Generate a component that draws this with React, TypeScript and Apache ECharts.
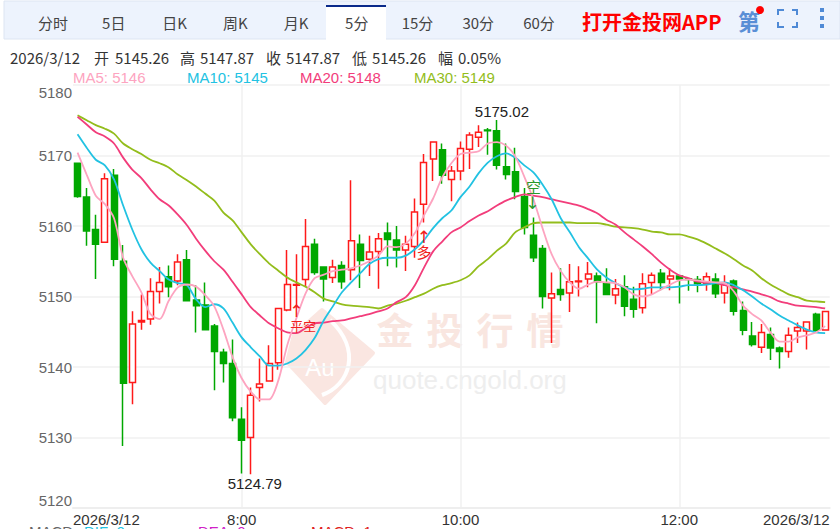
import React, { useEffect, useRef } from "react";
import * as echarts from "echarts";

const tabLabels = ["分时", "5日", "日K", "周K", "月K", "5分", "15分", "30分", "60分"];
const headerTexts = [
  { text: "2026/3/12", x: 10 },
  { text: "开", x: 94 },
  { text: "5145.26", x: 115 },
  { text: "高", x: 180 },
  { text: "5147.87", x: 200 },
  { text: "收", x: 266 },
  { text: "5147.87", x: 286 },
  { text: "低", x: 352 },
  { text: "5145.26", x: 372 },
  { text: "幅", x: 438 },
  { text: "0.05%", x: 458 },
];
const maLegend = [
  { text: "MA5: 5146", x: 73, color: "#fda4c0" },
  { text: "MA10: 5145", x: 187, color: "#22c2e2" },
  { text: "MA20: 5148", x: 300, color: "#f23d7b" },
  { text: "MA30: 5149", x: 414, color: "#93bd1c" },
];
const macdLegend = [
  { text: "MACD", x: 29, color: "#666666" },
  { text: "DIF: 0", x: 84, color: "#22c2e2" },
  { text: "DEA: 0", x: 198, color: "#d020c8" },
  { text: "MACD: 1", x: 311, color: "#e02020" },
];
const firstLastLabels = ["2026/3/12", "2026/3/12"];
const timeLabels: Record<number, string> = { 18: "8:00", 42: "10:00", 66: "12:00" };

// open, close, low, high
const candles = [
  [5168.9, 5164.2, 5164.0, 5168.9],
  [5164.1, 5159.3, 5157.2, 5165.4],
  [5159.5, 5157.4, 5152.5, 5161.6],
  [5157.7, 5166.7, 5157.7, 5167.5],
  [5167.2, 5155.3, 5154.3, 5168.1],
  [5155.0, 5137.7, 5128.8, 5157.3],
  [5137.8, 5146.1, 5134.7, 5147.9],
  [5146.4, 5146.6, 5145.3, 5150.3],
  [5146.8, 5150.7, 5146.0, 5152.6],
  [5150.7, 5152.0, 5149.0, 5154.2],
  [5152.8, 5151.4, 5149.9, 5154.4],
  [5152.2, 5154.9, 5151.6, 5156.0],
  [5155.2, 5149.4, 5149.4, 5156.6],
  [5149.5, 5148.7, 5144.9, 5151.6],
  [5148.8, 5145.3, 5145.3, 5152.0],
  [5145.8, 5142.2, 5136.7, 5146.1],
  [5142.1, 5140.5, 5137.8, 5142.6],
  [5140.5, 5132.8, 5132.3, 5143.9],
  [5132.6, 5129.6, 5124.9, 5134.3],
  [5130.0, 5136.0, 5124.79, 5137.1],
  [5137.1, 5137.6, 5135.1, 5141.2],
  [5138.0, 5140.5, 5138.0, 5143.1],
  [5140.6, 5148.3, 5139.6, 5148.4],
  [5148.1, 5151.7, 5147.9, 5156.6],
  [5151.6, 5151.7, 5148.7, 5156.0],
  [5152.4, 5157.1, 5151.5, 5161.0],
  [5157.4, 5153.4, 5153.1, 5158.2],
  [5154.2, 5152.5, 5149.3, 5154.3],
  [5152.7, 5154.2, 5151.9, 5155.2],
  [5154.4, 5152.1, 5151.1, 5155.0],
  [5153.8, 5157.9, 5152.3, 5166.5],
  [5157.4, 5155.1, 5151.2, 5158.8],
  [5155.3, 5156.3, 5152.9, 5158.6],
  [5156.4, 5158.2, 5151.1, 5159.0],
  [5159.0, 5158.1, 5154.3, 5160.5],
  [5158.0, 5156.6, 5154.1, 5160.0],
  [5156.6, 5157.4, 5153.6, 5158.6],
  [5157.1, 5162.0, 5155.5, 5163.9],
  [5163.1, 5169.0, 5160.5, 5170.2],
  [5169.5, 5171.9, 5166.4, 5172.0],
  [5170.8, 5167.2, 5166.0, 5171.7],
  [5166.6, 5167.8, 5163.5, 5168.5],
  [5167.8, 5171.0, 5166.5, 5172.0],
  [5170.9, 5172.9, 5168.1, 5173.3],
  [5172.6, 5173.3, 5171.2, 5174.3],
  [5173.6, 5173.5, 5170.1, 5173.9],
  [5173.5, 5168.6, 5168.0, 5175.02],
  [5168.4, 5167.3, 5166.6, 5171.7],
  [5167.7, 5164.9, 5163.8, 5171.1],
  [5164.2, 5159.8, 5158.8, 5165.4],
  [5158.7, 5155.5, 5154.9, 5161.2],
  [5156.8, 5150.0, 5148.3, 5157.3],
  [5149.8, 5150.4, 5143.4, 5153.4],
  [5151.0, 5150.3, 5149.4, 5154.0],
  [5150.5, 5152.1, 5147.8, 5154.6],
  [5152.1, 5152.2, 5150.0, 5154.3],
  [5152.5, 5153.2, 5151.3, 5154.9],
  [5152.9, 5152.1, 5146.2, 5153.4],
  [5151.8, 5150.3, 5150.3, 5154.0],
  [5150.2, 5151.1, 5148.9, 5152.5],
  [5151.4, 5148.6, 5147.2, 5153.0],
  [5149.6, 5148.2, 5147.0, 5151.4],
  [5148.4, 5151.8, 5147.6, 5153.3],
  [5152.0, 5153.0, 5150.3, 5153.4],
  [5153.3, 5152.0, 5150.9, 5153.9],
  [5152.5, 5152.9, 5150.9, 5154.0],
  [5152.9, 5152.5, 5149.0, 5153.0],
  [5152.5, 5152.4, 5150.8, 5152.6],
  [5152.4, 5151.8, 5150.6, 5152.9],
  [5151.8, 5152.8, 5150.8, 5153.4],
  [5152.5, 5150.4, 5149.8, 5153.3],
  [5150.5, 5151.9, 5149.0, 5153.0],
  [5152.2, 5147.9, 5147.3, 5152.4],
  [5148.0, 5145.2, 5144.5, 5149.3],
  [5144.4, 5143.2, 5142.9, 5146.4],
  [5142.8, 5144.9, 5142.0, 5146.1],
  [5144.6, 5142.7, 5141.0, 5145.6],
  [5142.7, 5142.2, 5139.8, 5142.9],
  [5142.2, 5144.5, 5141.3, 5145.6],
  [5145.1, 5145.6, 5143.4, 5146.3],
  [5145.1, 5146.4, 5142.5, 5146.4],
  [5147.5, 5145.2, 5145.0, 5147.7],
  [5145.26, 5147.87, 5145.26, 5147.87],
];

const ma5 = [
  5170.4, 5167.3, 5164.3, 5163.1, 5161.1, 5155.5, 5152.9, 5150.6, 5147.5, 5146.8,
  5149.4, 5151.3, 5151.7, 5151.4, 5150.2, 5148.6, 5145.3, 5141.4, 5138.4, 5136.5,
  5135.4, 5135.4, 5138.0, 5143.1, 5146.9, 5150.4, 5152.6, 5153.1, 5153.6, 5153.8,
  5154.0, 5154.4, 5155.0, 5155.8, 5157.1, 5157.0, 5157.5, 5159.0, 5161.5, 5163.9,
  5166.9, 5168.9, 5170.2, 5170.4, 5170.6, 5171.7, 5171.9, 5171.4, 5169.9, 5167.0,
  5163.8, 5159.7, 5156.0, 5153.6, 5152.0, 5151.1, 5151.7, 5152.1, 5152.0, 5151.9,
  5151.3, 5150.3, 5150.0, 5150.3, 5151.0, 5151.7, 5152.3, 5152.4, 5152.3, 5152.1,
  5152.0, 5151.9, 5150.7, 5148.7, 5147.5, 5146.6, 5144.9, 5143.6, 5143.6, 5144.2,
  5144.5, 5144.9, 5145.8,
];
const ma10 = [
  5173.0, 5171.1, 5169.4, 5168.6, 5166.6, 5162.9, 5159.5, 5156.7, 5154.8, 5153.6,
  5152.4, 5151.9, 5151.6, 5149.6, 5148.5, 5148.9, 5148.3, 5146.3, 5144.2, 5142.8,
  5141.5, 5140.2, 5140.2, 5140.5, 5141.2, 5142.4, 5144.1, 5146.6, 5148.6, 5150.6,
  5152.0, 5153.3, 5154.6, 5155.3, 5155.5, 5155.5, 5155.8, 5156.7, 5158.0, 5159.7,
  5161.1, 5162.2, 5164.1, 5165.6, 5167.5, 5169.0, 5169.9, 5170.3, 5169.7, 5168.6,
  5167.6, 5165.9, 5163.8, 5161.1, 5159.1, 5157.0, 5155.4, 5153.8, 5152.7, 5151.9,
  5151.3, 5151.0, 5151.1, 5151.3, 5151.3, 5151.3, 5151.4, 5151.6, 5151.6, 5151.7,
  5151.9, 5152.0, 5151.6, 5150.9, 5150.0, 5149.0, 5148.2, 5147.3, 5146.6, 5145.9,
  5145.3, 5144.9, 5144.8,
];
const ma20 = [
  5175.5, 5174.4, 5173.3, 5172.7, 5171.7, 5169.7, 5168.0, 5166.8, 5165.2, 5163.8,
  5162.9, 5161.6, 5160.1, 5158.2, 5156.5, 5155.0, 5153.8, 5152.1, 5150.3, 5148.5,
  5147.3, 5146.2, 5145.5, 5144.9, 5144.8, 5145.5, 5146.2, 5146.3, 5146.5, 5146.6,
  5146.9, 5147.2, 5147.5, 5147.9, 5148.3, 5149.2, 5149.9, 5151.6, 5154.1, 5156.4,
  5157.8, 5159.1, 5159.8, 5160.7, 5161.5, 5162.1, 5162.9, 5163.6, 5164.1, 5164.5,
  5164.3, 5164.1, 5163.8, 5163.5, 5163.2, 5162.9, 5162.4, 5161.8, 5160.9, 5160.2,
  5159.1, 5158.1, 5157.1, 5156.0, 5154.8, 5153.8, 5153.0, 5152.6, 5152.1, 5152.0,
  5151.9, 5151.6, 5151.3, 5151.0, 5150.7, 5150.3, 5149.9, 5149.3, 5149.0, 5148.7,
  5148.6, 5148.5, 5148.3,
];
const ma30 = [
  5175.7, 5175.0, 5174.3, 5173.8, 5173.1, 5171.7, 5170.9, 5170.2, 5169.4, 5168.9,
  5168.3, 5167.3, 5166.5, 5165.6, 5164.6, 5163.6, 5161.9, 5160.8, 5159.1, 5157.4,
  5156.0, 5154.7, 5153.7, 5152.7, 5152.0, 5151.4, 5150.6, 5149.7, 5149.3, 5148.9,
  5148.7, 5148.6, 5148.5, 5148.3, 5148.7, 5149.0, 5149.4, 5149.9, 5150.4, 5151.1,
  5151.6, 5151.9, 5152.3, 5153.0, 5154.3, 5155.3, 5156.5, 5157.5, 5159.1, 5159.8,
  5160.4, 5160.5, 5160.5, 5160.5, 5160.5, 5160.4, 5160.4, 5160.4, 5160.2, 5159.9,
  5159.8, 5159.7, 5159.5, 5159.2, 5159.1, 5158.8, 5158.8, 5158.5, 5158.1, 5157.5,
  5156.8, 5156.1, 5155.3, 5154.4, 5153.7, 5152.6, 5151.7, 5151.0, 5150.3, 5149.9,
  5149.4, 5149.3, 5149.2,
];

const categories = candles.map((_, i) => timeLabels[i] ?? `t${i}`);
const signals = [
  { idx: 24, value: 5148.0, text: "↑", color: "#f02020", size: 17, font: "DejaVu Sans", offset: [0, 0] },
  { idx: 24, value: 5145.9, text: "平空", color: "#f02020", size: 13, font: "Noto Sans CJK SC", offset: [7, 0] },
  { idx: 38, value: 5158.5, text: "↑", color: "#f02020", size: 17, font: "DejaVu Sans", offset: [0, 0] },
  { idx: 38, value: 5156.4, text: "多", color: "#f02020", size: 15, font: "Noto Sans CJK SC", offset: [0, 0] },
  { idx: 50, value: 5165.6, text: "空", color: "#2a9a2a", size: 15, font: "Noto Sans CJK SC", offset: [0, 0] },
  { idx: 50, value: 5163.2, text: "↓", color: "#2a9a2a", size: 17, font: "DejaVu Sans", offset: [-1, 0] },
];
const extremes = [
  { idx: 46, value: 5175.02, text: "5175.02", offset: [5, -9] },
  { idx: 19, value: 5124.79, text: "5124.79", offset: [4, 9] },
];
const watermarkChars = ["金", "投", "行", "情"];

const SANS = '"Liberation Sans", Arial, sans-serif';
const CJK = '"Noto Sans CJK SC", sans-serif';

export default function App() {
  const ref = useRef<HTMLDivElement>(null);
  useEffect(() => {
    if (!ref.current) return;
    const chart = echarts.init(ref.current, null, { renderer: "svg" });
    const lineSeries = (name: string, data: number[], color: string) => ({
      name,
      type: "line",
      data,
      smooth: 0.3,
      showSymbol: false,
      silent: true,
      lineStyle: { width: 1.8, color },
      itemStyle: { color },
      z: 3,
    });
    const graphic: any[] = [
      // top bar
      { type: "rect", shape: { x: 4, y: 1, width: 836, height: 38 }, style: { fill: "#edf3fd", stroke: "#dde5f2", lineWidth: 1 }, z: -10 },
      { type: "rect", shape: { x: 326, y: 5, width: 60, height: 35 }, style: { fill: "#ffffff" }, z: -9 },
      { type: "rect", shape: { x: 326, y: 5, width: 60, height: 2 }, style: { fill: "#0a2a8a" }, z: -8 },
      ...tabLabels.map((t, i) => ({
        type: "text",
        x: 53 + i * 60.75,
        y: 22,
        style: { text: t, fill: "#444444", font: `15px ${CJK}`, textAlign: "center", textVerticalAlign: "middle" },
        z: -7,
      })),
      { type: "text", x: 582, y: 21, style: { text: "打开金投网APP", fill: "#ff0000", font: `bold 20px ${CJK}`, textVerticalAlign: "middle" }, z: -7 },
      { type: "text", x: 749, y: 20, style: { text: "第", fill: "#5a8fd6", font: `bold 22px ${CJK}`, textAlign: "center", textVerticalAlign: "middle" }, z: -7 },
      { type: "circle", shape: { cx: 760, cy: 10, r: 4 }, style: { fill: "#ff0000" }, z: -6 },
      ...[
        [[778, 15], [778, 10], [784, 10]],
        [[792, 10], [797, 10], [797, 15]],
        [[778, 22], [778, 27], [784, 27]],
        [[792, 27], [797, 27], [797, 22]],
      ].map((points) => ({ type: "polyline", shape: { points }, style: { stroke: "#4f8ad6", lineWidth: 2, fill: "none" }, z: -6 })),
      ...[10, 18, 26].map((y) => ({ type: "rect", shape: { x: 820, y: y - 2, width: 4, height: 4 }, style: { fill: "#4f8ad6" }, z: -6 })),
      // header
      ...headerTexts.map((h) => ({ type: "text", x: h.x, y: 57, style: { text: h.text, fill: "#333333", font: `15px ${CJK}`, textVerticalAlign: "middle" } })),
      ...maLegend.map((m) => ({ type: "text", x: m.x, y: 77, style: { text: m.text, fill: m.color, font: `15px ${SANS}`, textVerticalAlign: "middle" } })),
      ...macdLegend.map((m) => ({ type: "text", x: m.x, y: 524, style: { text: m.text, fill: m.color, font: `15px ${SANS}`, textVerticalAlign: "top" } })),
      // watermark
      { type: "polygon", shape: { points: [[322, 310], [373, 353], [325, 403], [287, 362], [294, 335]] }, style: { fill: "#fae6e1", stroke: "#fae6e1", lineWidth: 4, lineJoin: "round" }, z: -5 },
      { type: "bezierCurve", shape: { x1: 330, y1: 320, x2: 322, y2: 395, cpx1: 362, cpy1: 350, cpx2: 350, cpy2: 385 }, style: { stroke: "#ffffff", lineWidth: 4, fill: "none" }, z: -4 },
      { type: "text", x: 320, y: 367, style: { text: "Au", fill: "#ffffff", font: `24px ${SANS}`, textAlign: "center", textVerticalAlign: "middle" }, z: -4 },
      ...watermarkChars.map((c, i) => ({
        type: "text",
        x: 395 + i * 50,
        y: 329,
        style: { text: c, fill: "#f9e6e0", font: `bold 37px ${CJK}`, textAlign: "center", textVerticalAlign: "middle" },
        z: -5,
      })),
      { type: "text", x: 373, y: 380, style: { text: "quote.cngold.org", fill: "#eeeeee", font: `26px ${SANS}`, textVerticalAlign: "middle" }, z: -5 },
    ];
    chart.setOption({
      animation: false,
      backgroundColor: "#ffffff",
      graphic,
      grid: { left: 73, right: 10.3, top: 85, bottom: 21, containLabel: false },
      xAxis: [
        {
          type: "category",
          data: categories,
          boundaryGap: true,
          axisLine: { show: true, lineStyle: { color: "#eeeeee", width: 2 } },
          axisTick: { show: false },
          axisLabel: {
            interval: (i: number) => timeLabels[i] !== undefined,
            formatter: (v: string) => v,
            color: "#333333",
            fontFamily: SANS,
            fontSize: 15,
            margin: 4,
            hideOverlap: false,
          },
          splitLine: {
            show: true,
            alignWithLabel: true,
            interval: (i: number) => timeLabels[i] !== undefined,
            lineStyle: { color: "#f0f0f0", width: 1.5 },
          },
        },
        {
          type: "category",
          data: firstLastLabels,
          position: "bottom",
          boundaryGap: false,
          axisLine: { show: false },
          axisTick: { show: false },
          splitLine: { show: false },
          axisLabel: {
            interval: 0,
            alignMinLabel: "left",
            alignMaxLabel: "right",
            color: "#333333",
            fontFamily: SANS,
            fontSize: 15,
            margin: 4,
          },
        },
      ],
      yAxis: {
        type: "value",
        min: 5120,
        max: 5180,
        interval: 10,
        axisLine: { show: false },
        axisTick: { show: false },
        axisLabel: {
          formatter: (v: number) => String(v),
          color: "#666666",
          fontFamily: SANS,
          fontSize: 15,
          margin: 1,
          verticalAlignMinLabel: "bottom",
          verticalAlignMaxLabel: "top",
        },
        splitLine: { show: true, lineStyle: { color: "#f0f0f0", width: 1.5 } },
      },
      series: [
        {
          name: "K",
          type: "candlestick",
          data: candles,
          barWidth: 6.5,
          clip: false,
          itemStyle: {
            color: "#ffffff",
            color0: "#00a800",
            borderColor: "#ff1a1a",
            borderColor0: "#00a800",
            borderWidth: 1.5,
          },
          markPoint: {
            symbol: "rect",
            symbolSize: 1,
            silent: true,
            itemStyle: { color: "rgba(0,0,0,0)" },
            data: [
              ...extremes.map((e) => ({
                coord: [e.idx, e.value],
                label: { show: true, position: "inside", formatter: e.text, offset: e.offset, color: "#222222", fontFamily: SANS, fontSize: 15 },
              })),
              ...signals.map((s) => ({
                coord: [s.idx, s.value],
                label: { show: true, position: "inside", formatter: s.text, offset: s.offset, color: s.color, fontFamily: s.font, fontSize: s.size },
              })),
            ],
          },
        },
        lineSeries("MA30", ma30, "#93bd1c"),
        lineSeries("MA20", ma20, "#f23d7b"),
        lineSeries("MA10", ma10, "#22c2e2"),
        lineSeries("MA5", ma5, "#fda4c0"),
      ],
    });
    return () => chart.dispose();
  }, []);
  return <div ref={ref} style={{ position: "fixed", left: 0, top: 0, width: 840, height: 529 }} />;
}
